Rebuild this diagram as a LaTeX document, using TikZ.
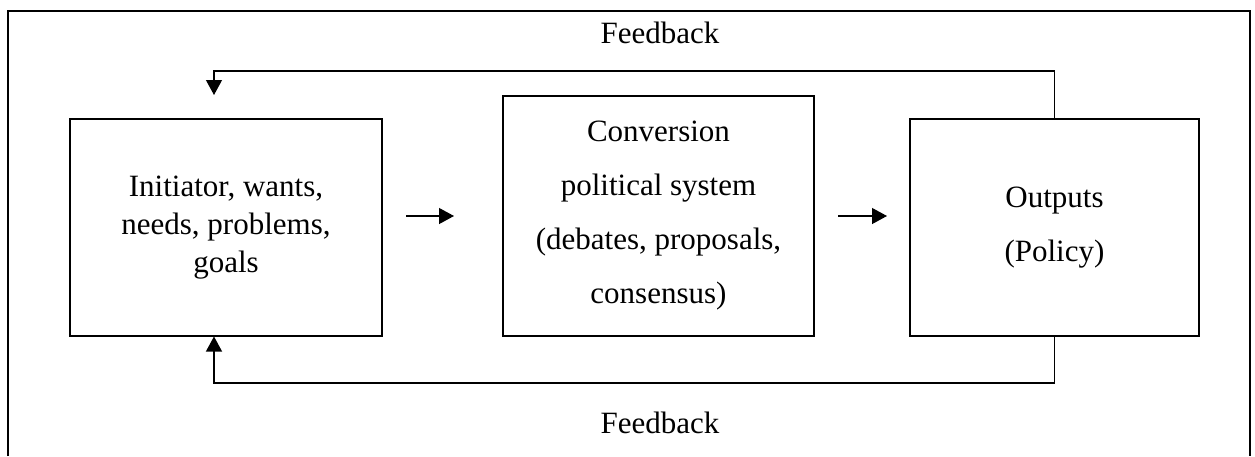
\documentclass[tikz,border=0pt]{standalone}
\usepackage{fontspec}
\setmainfont{Liberation Serif}
\usetikzlibrary{positioning, arrows.meta}

\begin{document}
\begin{tikzpicture}[x=0.5pt, y=-0.5pt, >={Triangle[width=8pt,length=7.5pt]}]
\def\boxfont{\fontsize{15.5}{19}\selectfont}
\def\wideboxfont{\fontsize{15.5}{27}\selectfont}
\def\boxheight{108.5pt}

\useasboundingbox (0,0) rectangle (1255,456);

%Frame
\draw [line width=1pt] (8,456) -- (8,11) -- (1250,11) -- (1250,456);

%Boxes
\node (init) at (226,227.5) [draw, line width=0.75pt, align=center, inner sep=0pt, minimum width=156pt, minimum height=\boxheight, font=\boxfont] {Initiator, wants,\\ needs, problems,\\ goals};
\node (conv) at (658.5,216) [draw, line width=0.75pt, align=center, inner sep=0pt, minimum width=155.5pt, minimum height=120pt, font=\wideboxfont] {Conversion\\ political system\\ (debates, proposals,\\ consensus)};
\node (outp) at (1054.5,227.5) [draw, line width=0.75pt, align=center, inner sep=0pt, minimum width=144.5pt, minimum height=\boxheight, font=\wideboxfont] {Outputs\\ (Policy)};

%Forward arrows
\coordinate (a1s) at (406,216);
\coordinate (a1e) at (454,216);
\coordinate (a2s) at (838,216);
\coordinate (a2e) at (887,216);
\draw [->, line width=0.6pt] (a1s) -- (a1e);
\draw [->, line width=0.6pt] (a2s) -- (a2e);

%Feedback
\coordinate (fbin) at (214,95);
\coordinate (fbup) at (214,336.5);
\draw [->, line width=0.6pt] (outp.north) -- (outp.north |- 0,71) -| (fbin);
\draw [->, line width=0.6pt] (outp.south) -- (outp.south |- 0,383) -| (fbup);

\node (fbtop) at (660,33) [font=\boxfont] {Feedback};
\node (fbbot) at (660,423) [font=\boxfont] {Feedback};

\end{tikzpicture}
\end{document}
